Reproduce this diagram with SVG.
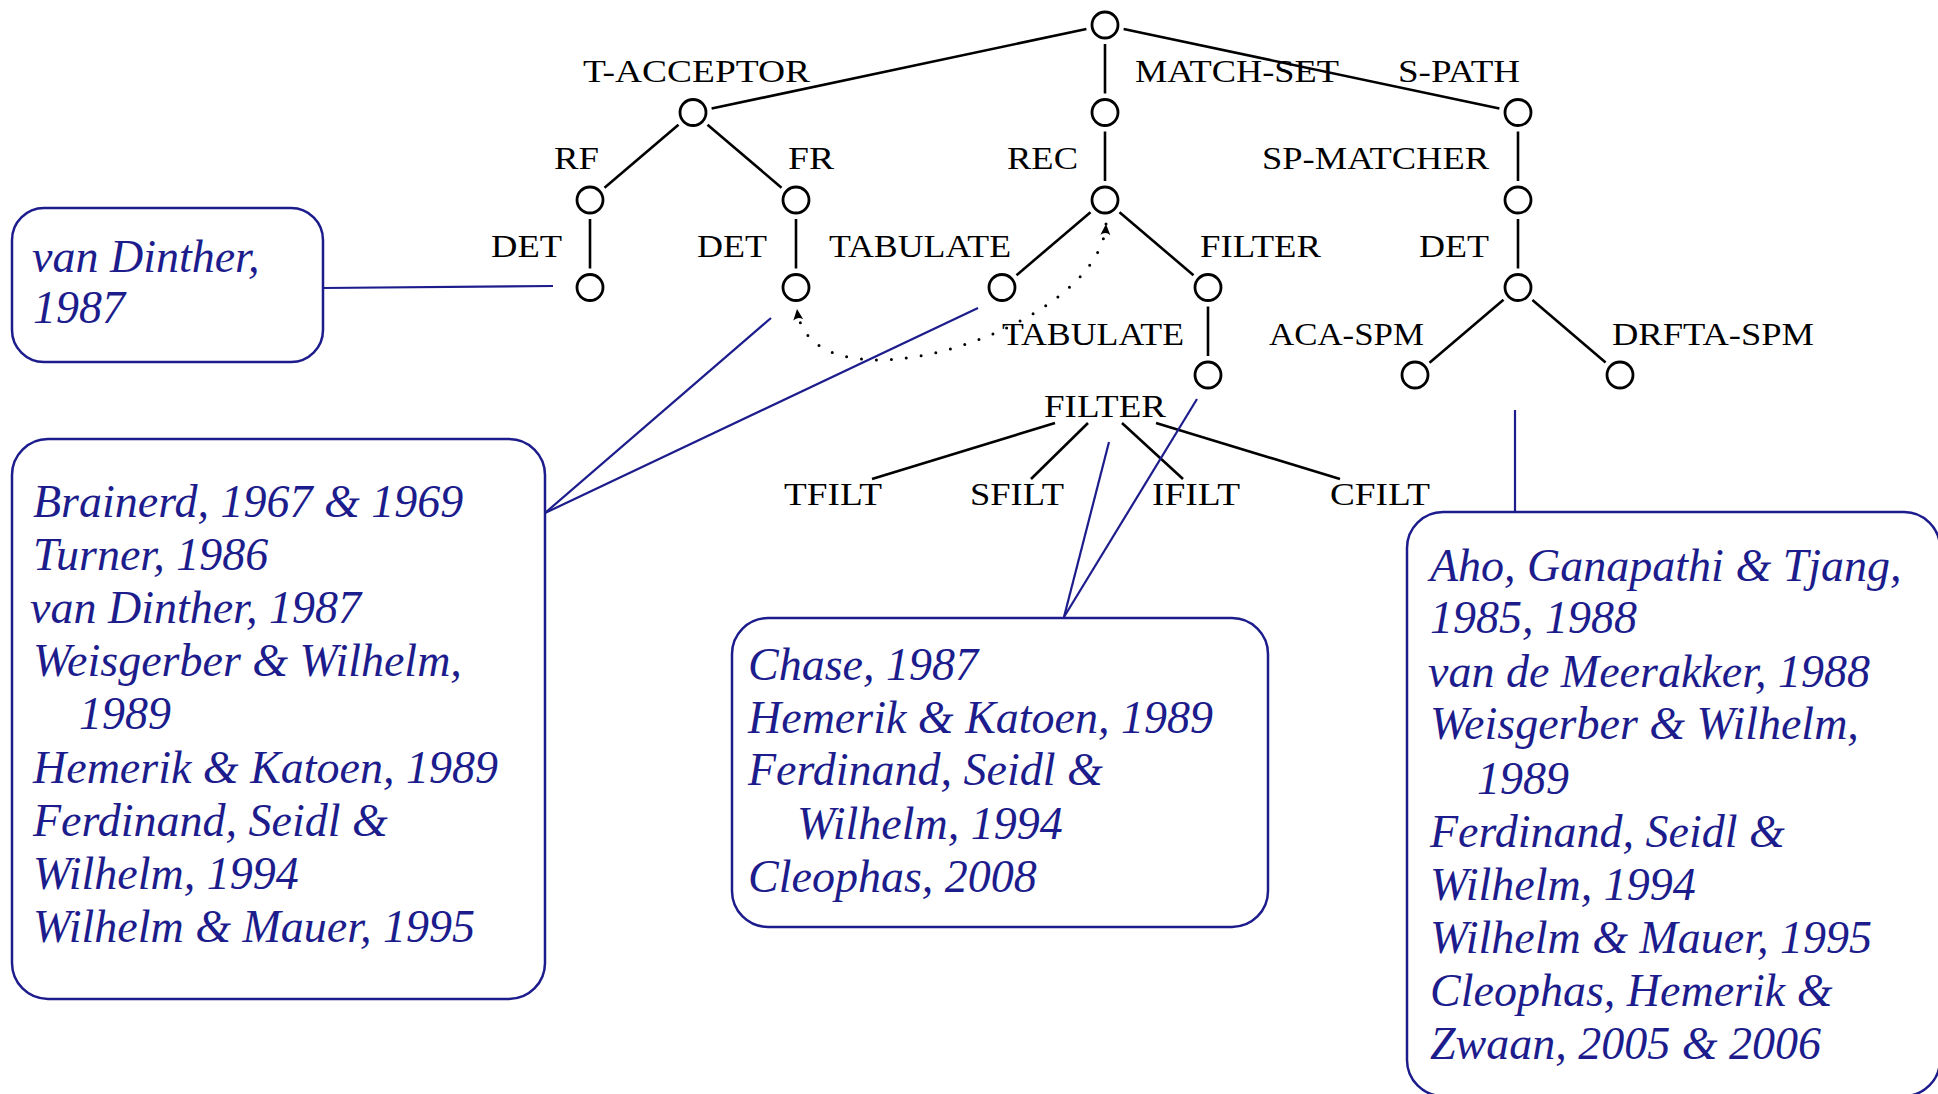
<svg xmlns="http://www.w3.org/2000/svg" width="1938" height="1094" viewBox="0 0 1938 1094">
<style>
.bg{fill:#fff}
.n{fill:#fff;stroke:#000;stroke-width:2.8}
.lbl{font-family:"Liberation Serif","Times New Roman",serif;font-size:32px;fill:#000}
.e{stroke:#000;stroke-width:2.6;fill:none;stroke-linecap:butt}
.dot{stroke:#000;stroke-width:3;fill:none;stroke-linecap:round;stroke-dasharray:0 15}
.bl{stroke:#1c1c8c;stroke-width:2.2;fill:none}
.box{fill:#fff;stroke:#1c1c8c;stroke-width:2.5}
.ref{font-family:"Liberation Serif","Times New Roman",serif;font-style:italic;font-size:46px;fill:#1c1c8c}
</style>
<defs>
<marker id="ah" viewBox="-12 -6 14 12" refX="0" refY="0" markerWidth="14" markerHeight="12" markerUnits="userSpaceOnUse" orient="auto-start-reverse">
<path d="M0,0 L-11,-5 Q-7,0 -11,5 Z" fill="#000"/>
</marker>
</defs>
<rect class="bg" x="0" y="0" width="1938" height="1094"/>

<g id="connectors">
<line class="e" x1="1086.4" y1="29" x2="711.6" y2="108.5"/>
<line class="e" x1="1105" y1="44" x2="1105" y2="93.5"/>
<line class="e" x1="1123.6" y1="29" x2="1499.4" y2="108.5"/>
<line class="e" x1="678.5" y1="124.8" x2="604.5" y2="187.7"/>
<line class="e" x1="707.5" y1="124.8" x2="781.5" y2="187.7"/>
<line class="e" x1="1105" y1="131.5" x2="1105" y2="181"/>
<line class="e" x1="1518" y1="131.5" x2="1518" y2="181"/>
<line class="e" x1="590" y1="219" x2="590" y2="268.5"/>
<line class="e" x1="796" y1="219" x2="796" y2="268.5"/>
<line class="e" x1="1090.5" y1="212.3" x2="1016.5" y2="275.2"/>
<line class="e" x1="1119.5" y1="212.3" x2="1193.5" y2="275.2"/>
<line class="e" x1="1518" y1="219" x2="1518" y2="268.5"/>
<line class="e" x1="1208" y1="306.5" x2="1208" y2="356"/>
<line class="e" x1="1503.5" y1="299.8" x2="1429.5" y2="362.7"/>
<line class="e" x1="1532.4" y1="299.9" x2="1605.6" y2="362.6"/>
<line class="e" x1="1055" y1="423" x2="872" y2="479"/>
<line class="e" x1="1088" y1="423" x2="1031" y2="479"/>
<line class="e" x1="1122" y1="423" x2="1183" y2="479"/>
<line class="e" x1="1156" y1="423" x2="1340" y2="479"/>
<path class="dot" d="M1106,224 C1100,330 810,420 797,309" marker-start="url(#ah)" marker-end="url(#ah)"/>
<line class="bl" x1="323" y1="288" x2="553" y2="286"/>
<line class="bl" x1="545" y1="513" x2="771" y2="318"/>
<line class="bl" x1="545" y1="513" x2="978" y2="308"/>
<line class="bl" x1="1064" y1="617" x2="1109" y2="442"/>
<line class="bl" x1="1064" y1="617" x2="1197" y2="399"/>
<line class="bl" x1="1515" y1="410" x2="1515" y2="512"/>
</g>

<g id="root"><circle class="n" cx="1105" cy="25" r="13"/></g>
<g id="t-acceptor"><circle class="n" cx="693" cy="112.5" r="13"/><text class="lbl" x="583" y="82" textLength="227" lengthAdjust="spacingAndGlyphs">T-ACCEPTOR</text></g>
<g id="match-set"><circle class="n" cx="1105" cy="112.5" r="13"/><text class="lbl" x="1135" y="82" textLength="204" lengthAdjust="spacingAndGlyphs">MATCH-SET</text></g>
<g id="s-path"><circle class="n" cx="1518" cy="112.5" r="13"/><text class="lbl" x="1398" y="82" textLength="122" lengthAdjust="spacingAndGlyphs">S-PATH</text></g>
<g id="rf"><circle class="n" cx="590" cy="200" r="13"/><text class="lbl" x="554" y="169" textLength="45" lengthAdjust="spacingAndGlyphs">RF</text></g>
<g id="fr"><circle class="n" cx="796" cy="200" r="13"/><text class="lbl" x="788" y="169" textLength="46" lengthAdjust="spacingAndGlyphs">FR</text></g>
<g id="rec"><circle class="n" cx="1105" cy="200" r="13"/><text class="lbl" x="1007" y="169" textLength="71" lengthAdjust="spacingAndGlyphs">REC</text></g>
<g id="sp-matcher"><circle class="n" cx="1518" cy="200" r="13"/><text class="lbl" x="1262" y="169" textLength="227" lengthAdjust="spacingAndGlyphs">SP-MATCHER</text></g>
<g id="rf-det"><circle class="n" cx="590" cy="287.5" r="13"/><text class="lbl" x="491" y="257" textLength="71" lengthAdjust="spacingAndGlyphs">DET</text></g>
<g id="fr-det"><circle class="n" cx="796" cy="287.5" r="13"/><text class="lbl" x="697" y="257" textLength="70" lengthAdjust="spacingAndGlyphs">DET</text></g>
<g id="tabulate"><circle class="n" cx="1002" cy="287.5" r="13"/><text class="lbl" x="829" y="257" textLength="182" lengthAdjust="spacingAndGlyphs">TABULATE</text></g>
<g id="filter"><circle class="n" cx="1208" cy="287.5" r="13"/><text class="lbl" x="1200" y="257" textLength="121" lengthAdjust="spacingAndGlyphs">FILTER</text></g>
<g id="s-det"><circle class="n" cx="1518" cy="287.5" r="13"/><text class="lbl" x="1419" y="257" textLength="70" lengthAdjust="spacingAndGlyphs">DET</text></g>
<g id="tabulate-filter"><circle class="n" cx="1208" cy="375" r="13"/><text class="lbl" x="1002" y="345" textLength="182" lengthAdjust="spacingAndGlyphs">TABULATE</text></g>
<g id="aca-spm"><circle class="n" cx="1415" cy="375" r="13"/><text class="lbl" x="1269" y="345" textLength="155" lengthAdjust="spacingAndGlyphs">ACA-SPM</text></g>
<g id="drfta-spm"><circle class="n" cx="1620" cy="375" r="13"/><text class="lbl" x="1612" y="345" textLength="202" lengthAdjust="spacingAndGlyphs">DRFTA-SPM</text></g>
<g id="filter-split"><text class="lbl" x="1044" y="417" textLength="122" lengthAdjust="spacingAndGlyphs">FILTER</text></g>
<g id="tfilt"><text class="lbl" x="784" y="505" textLength="98" lengthAdjust="spacingAndGlyphs">TFILT</text></g>
<g id="sfilt"><text class="lbl" x="970" y="505" textLength="94" lengthAdjust="spacingAndGlyphs">SFILT</text></g>
<g id="ifilt"><text class="lbl" x="1152" y="505" textLength="88" lengthAdjust="spacingAndGlyphs">IFILT</text></g>
<g id="cfilt"><text class="lbl" x="1330" y="505" textLength="100" lengthAdjust="spacingAndGlyphs">CFILT</text></g>

<g id="box-rf-det">
<rect class="box" x="12" y="208" width="311" height="154" rx="32"/>
<text class="ref"><tspan x="32" y="272">van Dinther,</tspan><tspan x="33" y="323">1987</tspan></text>
</g>
<g id="box-fr-det">
<rect class="box" x="12" y="439" width="533" height="560" rx="36"/>
<text class="ref"><tspan x="33" y="517">Brainerd, 1967 &amp; 1969</tspan><tspan x="33" y="570">Turner, 1986</tspan><tspan x="30" y="623">van Dinther, 1987</tspan><tspan x="33" y="676">Weisgerber &amp; Wilhelm,</tspan><tspan x="79" y="729">1989</tspan><tspan x="33" y="783">Hemerik &amp; Katoen, 1989</tspan><tspan x="33" y="836">Ferdinand, Seidl &amp;</tspan><tspan x="33" y="889">Wilhelm, 1994</tspan><tspan x="33" y="942">Wilhelm &amp; Mauer, 1995</tspan></text>
</g>
<g id="box-filter">
<rect class="box" x="732" y="618" width="536" height="309" rx="36"/>
<text class="ref"><tspan x="748" y="680">Chase, 1987</tspan><tspan x="748" y="733">Hemerik &amp; Katoen, 1989</tspan><tspan x="748" y="785">Ferdinand, Seidl &amp;</tspan><tspan x="797" y="839">Wilhelm, 1994</tspan><tspan x="748" y="892">Cleophas, 2008</tspan></text>
</g>
<g id="box-spm">
<rect class="box" x="1407" y="512" width="533" height="584" rx="36"/>
<text class="ref"><tspan x="1430" y="581">Aho, Ganapathi &amp; Tjang,</tspan><tspan x="1430" y="633">1985, 1988</tspan><tspan x="1428" y="687">van de Meerakker, 1988</tspan><tspan x="1430" y="739">Weisgerber &amp; Wilhelm,</tspan><tspan x="1477" y="794">1989</tspan><tspan x="1430" y="847">Ferdinand, Seidl &amp;</tspan><tspan x="1430" y="900">Wilhelm, 1994</tspan><tspan x="1430" y="953">Wilhelm &amp; Mauer, 1995</tspan><tspan x="1430" y="1006">Cleophas, Hemerik &amp;</tspan><tspan x="1430" y="1059">Zwaan, 2005 &amp; 2006</tspan></text>
</g>
</svg>
